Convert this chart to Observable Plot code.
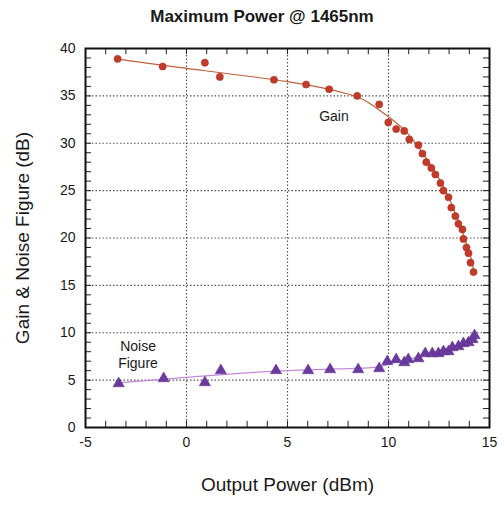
<!DOCTYPE html>
<html>
<head>
<meta charset="utf-8">
<script src="https://cdn.jsdelivr.net/npm/d3@7"></script>
<script src="https://cdn.jsdelivr.net/npm/@observablehq/plot@0.6"></script>
<style>
  body { margin: 0; background: #fff; font-family: "Liberation Sans", Arial, sans-serif; }
  #title { height: 34px; line-height: 34px; text-align: center; font-weight: bold; font-size: 17px; color: #1a1a1a; padding-left: 20px; }
</style>
</head>
<body>
<div id="title">Maximum Power @ 1465nm</div>
<div id="chart"></div>
<script>
// Gain measurements (Output Power dBm, Gain dB)
const gainX = [-3.41, -1.18, 0.91, 1.65, 4.33, 5.92, 7.06, 8.45, 9.54, 9.99, 10.38, 10.78, 11.03, 11.48, 11.68, 11.87, 12.12, 12.32, 12.57, 12.72, 12.97, 13.11, 13.31, 13.46, 13.66, 13.71, 13.86, 13.96, 14.06, 14.21];
const gainY = [38.9, 38.1, 38.5, 37.0, 36.7, 36.2, 35.7, 35.0, 34.1, 32.2, 31.5, 31.3, 30.4, 29.8, 28.9, 28.0, 27.4, 26.7, 25.8, 25.0, 24.3, 23.2, 22.3, 21.5, 20.9, 19.9, 19.0, 18.4, 17.4, 16.4];
// Gain fitted curve
const gainFitX = [-3.5, 0, 5, 8, 9, 10, 11, 12, 13, 14, 14.2];
const gainFitY = [38.9, 37.9, 36.5, 35.2, 34.3, 32.8, 30.9, 28.0, 24.2, 18.5, 16.5];
// Noise figure measurements
const nfX = [-3.36, -1.13, 0.91, 1.70, 4.43, 6.02, 7.11, 8.50, 9.54, 9.94, 10.38, 10.78, 10.98, 11.48, 11.82, 12.17, 12.47, 12.72, 12.97, 13.16, 13.46, 13.71, 13.96, 14.16, 14.26];
const nfY = [4.64, 5.17, 4.75, 6.02, 6.02, 6.02, 6.12, 6.12, 6.23, 6.97, 7.18, 6.86, 7.18, 7.28, 7.81, 7.81, 7.81, 8.02, 8.02, 8.44, 8.55, 8.87, 8.97, 9.29, 9.71];
// Noise figure fitted curve
const nfFitX = [-3.4, 0, 5, 9, 10, 11, 12, 13, 14, 14.3];
const nfFitY = [4.7, 5.3, 6.0, 6.3, 6.7, 7.2, 7.8, 8.4, 9.2, 9.7];

const xTicks = [-5, 0, 5, 10, 15];
const yTicks = [0, 5, 10, 15, 20, 25, 30, 35, 40];
const xGrid = [0, 5, 10];
const yGrid = [5, 10, 15, 20, 25, 30, 35];
const xMinor = [-5,-4,-3,-2,-1,0,1,2,3,4,5,6,7,8,9,10,11,12,13,14,15];
const yMinor = [0,1,2,3,4,5,6,7,8,9,10,11,12,13,14,15,16,17,18,19,20,21,22,23,24,25,26,27,28,29,30,31,32,33,34,35,36,37,38,39,40];

const xLabel = "Output Power (dBm)";
const yLabel = "Gain & Noise Figure (dB)";

const gain = gainX.map((x, i) => ({x, y: gainY[i]}));
const gainFit = gainFitX.map((x, i) => ({x, y: gainFitY[i]}));
const nf = nfX.map((x, i) => ({x, y: nfY[i]}));
const nfFit = nfFitX.map((x, i) => ({x, y: nfFitY[i]}));

const chart = Plot.plot({
  width: 504,
  height: 472,
  marginTop: 14,
  marginBottom: 79,
  marginLeft: 85,
  marginRight: 15,
  style: {fontFamily: "Liberation Sans, Arial, sans-serif", color: "#1a1a1a", background: "#fff"},
  x: {domain: [-5, 15]},
  y: {domain: [0, 40]},
  marks: [
    Plot.ruleX(xGrid, {x: d => d, stroke: "#555", strokeWidth: 1.2, strokeDasharray: "1.5,2"}),
    Plot.ruleY(yGrid, {y: d => d, stroke: "#555", strokeWidth: 1.2, strokeDasharray: "1.5,2"}),
    // minor ticks inside frame
    Plot.ruleX(xMinor, {x: d => d, y1: 0, y2: 0.65, stroke: "#222", strokeWidth: 1}),
    Plot.ruleX(xMinor, {x: d => d, y1: 39.35, y2: 40, stroke: "#222", strokeWidth: 1}),
    Plot.ruleY(yMinor, {y: d => d, x1: -5, x2: -4.7, stroke: "#222", strokeWidth: 1}),
    Plot.ruleY(yMinor, {y: d => d, x1: 14.7, x2: 15, stroke: "#222", strokeWidth: 1}),
    Plot.axisX({ticks: xTicks, tickSize: 0, tickPadding: 10, fontSize: 14, label: null, tickFormat: d => String(d)}),
    Plot.axisY({ticks: yTicks, tickSize: 0, tickPadding: 10, fontSize: 14, label: null, tickFormat: d => String(d)}),
    Plot.text([xLabel], {frameAnchor: "bottom", dy: 63, fontSize: 19, fill: "#1a1a1a", textAnchor: "middle"}),
    Plot.text([yLabel], {frameAnchor: "left", dx: -63, rotate: -90, fontSize: 19, fill: "#1a1a1a", textAnchor: "middle"}),
    Plot.line(gainFit, {x: "x", y: "y", curve: "natural", stroke: "#c0623c", strokeWidth: 1.2}),
    Plot.line(nfFit, {x: "x", y: "y", curve: "natural", stroke: "#c48ad8", strokeWidth: 1.2}),
    Plot.dot(gain, {x: "x", y: "y", r: 3.6, fill: "#c23a2a", stroke: "#a83020", strokeWidth: 0.5}),
    Plot.dot(nf, {x: "x", y: "y", symbol: "triangle", r: 4.2, fill: "#6b3a9e", stroke: "#5a2f88", strokeWidth: 0.5}),
    Plot.text(["Gain"], {x: 7.3, y: 32.8, fontSize: 14, fill: "#1a1a1a"}),
    Plot.text(["Noise"], {x: -2.4, y: 8.5, fontSize: 14, fill: "#1a1a1a"}),
    Plot.text(["Figure"], {x: -2.4, y: 6.8, fontSize: 14, fill: "#1a1a1a"}),
    Plot.frame({stroke: "#111", strokeWidth: 2})
  ]
});
document.getElementById("chart").appendChild(chart);
</script>
</body>
</html>
